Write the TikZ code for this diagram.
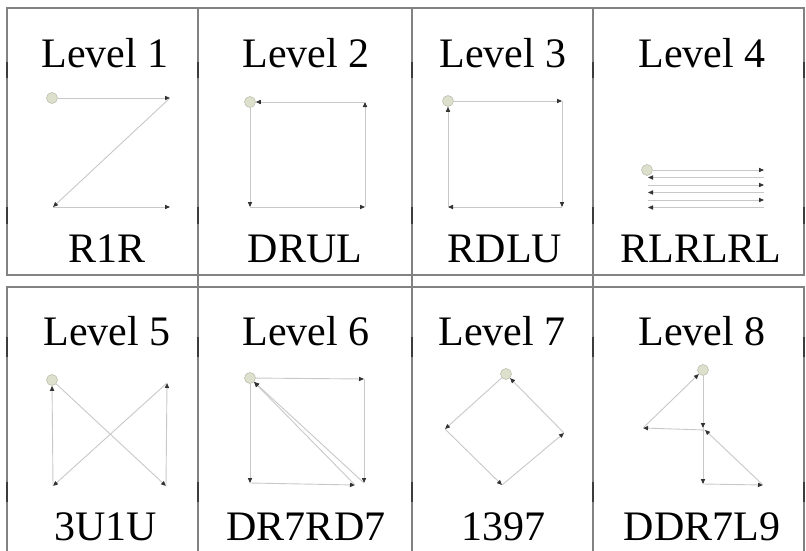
\documentclass[tikz,border=0pt]{standalone}
\usepackage{fontspec}
\setmainfont{Liberation Serif}
\usetikzlibrary{arrows.meta}
\definecolor{bordergray}{RGB}{130,130,130}
\definecolor{tickgray}{RGB}{60,60,60}
\definecolor{pathgray}{RGB}{200,200,200}
\definecolor{startfill}{RGB}{222,224,206}
\definecolor{startdraw}{RGB}{190,192,175}
\tikzset{
  border/.style={draw=bordergray,line width=1.8},
  tick/.style={draw=tickgray,line width=2.8},
  title/.style={anchor=base,inner sep=0pt,font=\fontsize{42}{50}\selectfont},
  move/.style={draw=pathgray,line width=0.9,-{Triangle[length=5,width=4.2,color=black!80]}},
  start/.style={circle,fill=startfill,draw=startdraw,line width=0.6,minimum size=11,inner sep=0pt},
}
\begin{document}
\begin{tikzpicture}[x=1pt,y=-1pt]
\useasboundingbox (0,0) rectangle (806,551);
% borders
\draw[border] (7,8) rectangle (804,275);
\draw[border] (7,551) -- (7,287) -- (804,287) -- (804,551);
\foreach \xx in {198,412,593} \draw[border] (\xx,8) -- (\xx,551);
\foreach \xx in {7,198,412,593,804} {
  \draw[tick] (\xx,62) -- (\xx,78);
  \draw[tick] (\xx,207) -- (\xx,224);
  \draw[tick] (\xx,337) -- (\xx,357);
  \draw[tick] (\xx,482) -- (\xx,502);
}
% titles
\node[title] (t1) at (105,68) {Level 1};
\node[title] (t2) at (306,68) {Level 2};
\node[title] (t3) at (503,68) {Level 3};
\node[title] (t4) at (702,68) {Level 4};
\node[title] (t5) at (107,345) {Level 5};
\node[title] (t6) at (306,345) {Level 6};
\node[title] (t7) at (502,345) {Level 7};
\node[title] (t8) at (702,345) {Level 8};
\node[title] (c1) at (107,262) {R1R};
\node[title] (c2) at (305,262) {DRUL};
\node[title] (c3) at (505,262) {RDLU};
\node[title] (c4) at (701,262) {RLRLRL};
\node[title] (c5) at (106,540) {3U1U};
\node[title] (c6) at (306,540) {DR7RD7};
\node[title] (c7) at (503,540) {1397};
\node[title] (c8) at (702,540) {DDR7L9};
% Panel 1
\node[start] (s1) at (52,98) {};
\coordinate (p1a) at (170,98);
\coordinate (p1b) at (53,207);
\coordinate (p1c) at (170,207);
\draw[move] (s1) -- (p1a);
\draw[move] (p1a) -- (p1b);
\draw[move] (p1b) -- (p1c);
% Panel 2
\node[start] (s2) at (250,102) {};
\coordinate (p2a) at (250,207);
\coordinate (p2b) at (365,207);
\coordinate (p2c) at (365,102);
\draw[move] (s2) -- (p2a);
\draw[move] (p2a) -- (p2b);
\draw[move] (p2b) -- (p2c);
\draw[move] (p2c) -- (s2);
% Panel 3
\node[start] (s3) at (448,101) {};
\coordinate (p3a) at (562,101);
\coordinate (p3b) at (562,207);
\coordinate (p3c) at (448,207);
\draw[move] (s3) -- (p3a);
\draw[move] (p3a) -- (p3b);
\draw[move] (p3b) -- (p3c);
\draw[move] (p3c) -- (s3);
% Panel 4
\node[start] (s4) at (647,170) {};
\coordinate (p4r1) at (764,170);
\coordinate (p4a) at (764,177.5);
\coordinate (p4b) at (648,177.5);
\coordinate (p4c) at (648,185);
\coordinate (p4d) at (764,185);
\coordinate (p4e) at (764,192.5);
\coordinate (p4f) at (648,192.5);
\coordinate (p4g) at (648,200);
\coordinate (p4h) at (764,200);
\coordinate (p4i) at (764,207.5);
\coordinate (p4j) at (648,207.5);
\draw[move] (s4) -- (p4r1);
\draw[move] (p4a) -- (p4b);
\draw[move] (p4c) -- (p4d);
\draw[move] (p4e) -- (p4f);
\draw[move] (p4g) -- (p4h);
\draw[move] (p4i) -- (p4j);
% Panel 5
\node[start] (s5) at (52,380) {};
\coordinate (p5br) at (166,486);
\coordinate (p5tr) at (167,383);
\coordinate (p5bl) at (53,486);
\draw[move] (s5) -- (p5br);
\draw[move] (p5br) -- (p5tr);
\draw[move] (p5tr) -- (p5bl);
\draw[move] (p5bl) -- (s5);
% Panel 6
\node[start] (s6) at (250,378) {};
\coordinate (p6bl) at (250,483);
\coordinate (p6bm) at (355,485);
\coordinate (p6tr) at (364,379);
\coordinate (p6br) at (364,483);
\draw[move] (s6) -- (p6bl);
\draw[move] (p6bl) -- (p6bm);
\draw[move] (p6bm) -- (s6);
\draw[move] (s6) -- (p6tr);
\draw[move] (p6tr) -- (p6br);
\draw[move] (p6br) -- (s6);
% Panel 7
\node[start] (s7) at (506,374) {};
\coordinate (p7l) at (445,429);
\coordinate (p7b) at (502,485);
\coordinate (p7r) at (564,433);
\draw[move] (s7) -- (p7l);
\draw[move] (p7l) -- (p7b);
\draw[move] (p7b) -- (p7r);
\draw[move] (p7r) -- (s7);
% Panel 8
\node[start] (s8) at (703,370) {};
\coordinate (p8m1) at (703,428);
\coordinate (p8d) at (703,484);
\coordinate (p8r) at (763,485);
\coordinate (p8m2) at (705,430);
\coordinate (p8l) at (643,428);
\draw[move] (s8) -- (p8m1);
\draw[move] (p8m1) -- (p8d);
\draw[move] (p8d) -- (p8r);
\draw[move] (p8r) -- (p8m2);
\draw[move] (p8m2) -- (p8l);
\draw[move] (p8l) -- (s8);
\end{tikzpicture}
\end{document}
